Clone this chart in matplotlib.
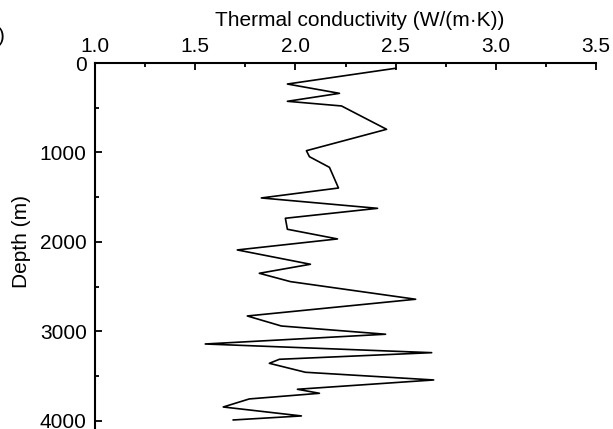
import matplotlib
matplotlib.use("Agg")
import matplotlib.pyplot as plt
from matplotlib.ticker import MultipleLocator

plt.rcParams['font.family'] = ['Liberation Sans', 'DejaVu Sans']

conductivity = [2.50, 1.96, 2.22, 1.96, 2.23, 2.455, 2.055, 2.07, 2.17, 2.215,
                1.83, 2.41, 1.95, 1.96, 2.21, 1.71, 2.075, 1.82, 1.975, 2.60,
                1.76, 1.93, 2.45, 1.55, 2.68, 1.92, 1.87, 2.05, 2.69, 2.01,
                2.12, 1.77, 1.64, 2.03, 1.69]
depth = [59, 235, 339, 428, 480, 741, 980, 1047, 1166, 1397,
         1508, 1624, 1735, 1858, 1966, 2089, 2249, 2350, 2443, 2640,
         2827, 2939, 3031, 3140, 3237, 3311, 3356, 3456, 3542, 3646,
         3691, 3754, 3844, 3944, 3989]

x_ticks = [1.0, 1.5, 2.0, 2.5, 3.0, 3.5]
y_ticks = [0, 1000, 2000, 3000, 4000]

W, H = 613, 429
fig = plt.figure(figsize=(W / 100, H / 100), dpi=100)
ax = fig.add_axes([95 / W, 0, (596 - 95) / W, (H - 63) / H])

ax.plot(conductivity, depth, color='black', lw=1.2)

ax.set_xlim(1.0, 3.5)
ax.set_ylim(4090, 0)
ax.xaxis.set_ticks_position('top')
ax.xaxis.set_label_position('top')
ax.set_xticks(x_ticks)
ax.set_xticklabels([f"{v:.1f}" for v in x_ticks])
ax.set_yticks(y_ticks)
ax.xaxis.set_minor_locator(MultipleLocator(0.25))
ax.yaxis.set_minor_locator(MultipleLocator(500))

for s in ['right', 'bottom']:
    ax.spines[s].set_visible(False)
for s in ['left', 'top']:
    ax.spines[s].set_linewidth(1.5)

ax.tick_params(which='major', direction='in', length=5, width=1.3, labelsize=15, pad=5)
ax.tick_params(which='minor', direction='in', length=3, width=1.3)
ax.tick_params(axis='y', pad=6)

ax.set_xlabel('Thermal conductivity (W/(m·K))', fontsize=15)
ax.xaxis.set_label_coords((360 - 95) / (596 - 95), 1 + (63 - 20) / (H - 63), transform=ax.transAxes)
ax.set_ylabel('Depth (m)', fontsize=15)
ax.yaxis.set_label_coords(-(95 - 22) / (596 - 95), (H - 242) / (H - 63))
ax.xaxis.label.set_va('center')
ax.yaxis.label.set_va('center')

fig.text(-2 / W, 1 - 37 / H, ')', fontsize=15, ha='left', va='center')

fig.savefig('out.png', dpi=100)
